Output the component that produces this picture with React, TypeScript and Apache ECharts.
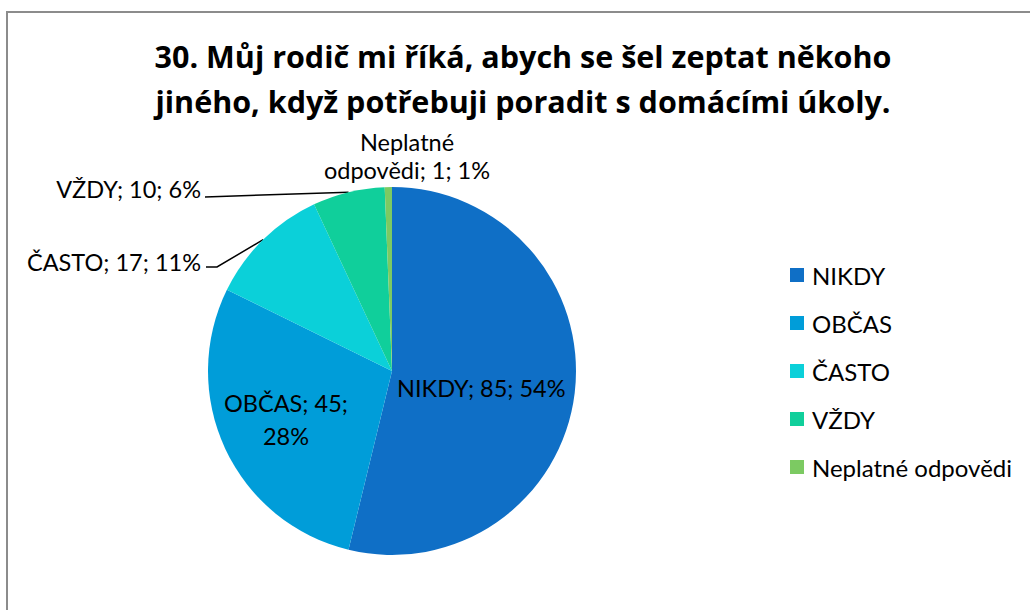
import React, { useEffect, useRef } from "react";
import * as echarts from "echarts";

const categories = ["NIKDY", "OBČAS", "ČASTO", "VŽDY", "Neplatné odpovědi"];
const counts = [85, 45, 17, 10, 1];
const colors = ["#0F6FC6", "#009DD9", "#0BD0D9", "#10CF9B", "#7CCA62"];
const titleLines = [
  "30. Můj rodič mi říká, abych se šel zeptat někoho",
  "jiného, když potřebuji poradit s domácími úkoly.",
];

const FONT = "Lato, 'Noto Sans', sans-serif";
const TITLE_FONT = "'Open Sans', Lato, sans-serif";

export default function App() {
  const ref = useRef<HTMLDivElement>(null);
  useEffect(() => {
    document.body.style.margin = "0";
    const chart = echarts.init(ref.current!, null, { renderer: "svg" });
    const total = counts.reduce((a, b) => a + b, 0);
    const fmt = (i: number) => {
      const p = Math.round((counts[i] / total) * 100);
      if (i === 1) return `${categories[i]}; ${counts[i]};\n${p}%`;
      if (i === 4) return `Neplatné\nodpovědi; ${counts[i]}; ${p}%`;
      return `${categories[i]}; ${counts[i]}; ${p}%`;
    };
    chart.setOption({
      animation: false,
      backgroundColor: "#fff",
      color: colors,
      graphic: [
        {
          type: "rect",
          shape: { x: 7, y: 12, width: 1100, height: 700 },
          style: { fill: "none", stroke: "#8c8c8c", lineWidth: 2 },
          silent: true,
        },
        {
          type: "text",
          x: 523,
          y: 33,
          style: {
            text: titleLines.join("\n"),
            font: `bold 30.5px ${TITLE_FONT}`,
            lineHeight: 45,
            textAlign: "center",
            fill: "#000",
          },
        },
      ],
      legend: {
        orient: "vertical",
        left: 790,
        top: 263,
        padding: 0,
        itemWidth: 14,
        itemHeight: 14,
        itemGap: 24,
        icon: "rect",
        textStyle: { fontFamily: FONT, fontSize: 24, color: "#000", lineHeight: 24, padding: [0, 0, 0, 3] },
        data: categories,
      },
      series: [
        {
          type: "pie",
          center: [392, 371],
          radius: 184,
          startAngle: 90,
          clockwise: true,
          avoidLabelOverlap: false,
          itemStyle: { borderWidth: 0 },
          label: {
            fontFamily: FONT,
            fontSize: 23.5,
            color: "#000",
            lineHeight: 28,
            formatter: (p: any) => fmt(p.dataIndex),
          },
          labelLine: { show: true, lineStyle: { color: "#000", width: 1.5 } },
          labelLayout: (p: any) => {
            const i = p.dataIndex;
            const edge = p.labelLinePoints ? p.labelLinePoints[0] : [0, 0];
            if (i === 1) {
              return { dx: -20, dy: 8 };
            }
            if (i === 0) {
              return { dx: -5, dy: 6 };
            }
            if (i === 2) {
              return {
                x: 201, y: 262, align: "right", verticalAlign: "middle",
                labelLinePoints: [edge, [217, 267], [206, 267]],
              };
            }
            if (i === 3) {
              return {
                x: 201, y: 189, align: "right", verticalAlign: "middle",
                labelLinePoints: [edge, [205, 197], [205, 197]],
              };
            }
            if (i === 4) {
              return { x: 407, y: 156, align: "center", verticalAlign: "middle" };
            }
            return {};
          },
          data: categories.map((c, i) => {
            const inside = i < 2;
            const label: any = inside ? { position: "inside" } : { position: "outside" };
            if (i === 1) label.lineHeight = 33;
            return {
              name: c,
              value: counts[i],
              label,
              labelLine: { show: i === 2 || i === 3 },
            };
          }),
        },
      ],
    });
    return () => chart.dispose();
  }, []);
  return <div ref={ref} style={{ width: 1030, height: 610 }} />;
}
